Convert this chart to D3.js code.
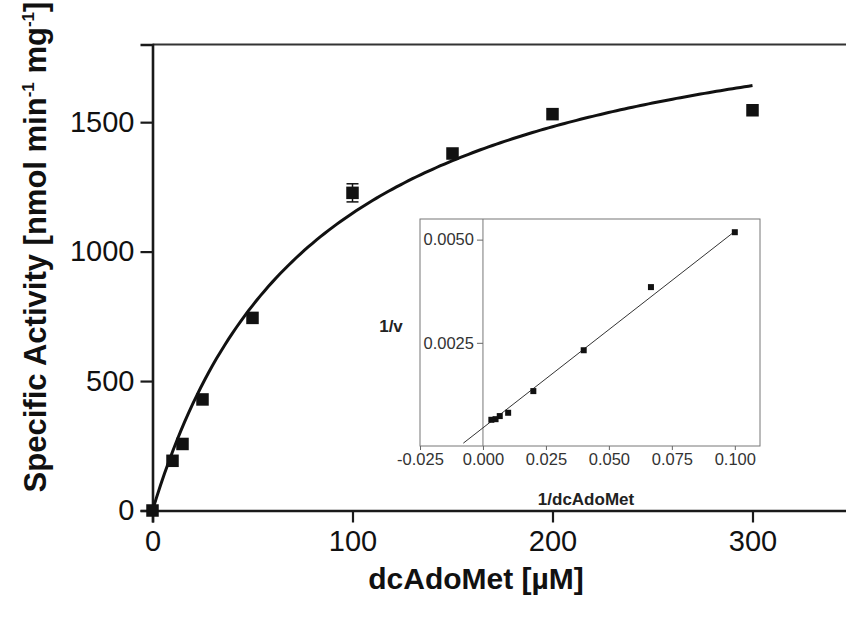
<!DOCTYPE html>
<html>
<head>
<meta charset="utf-8">
<script src="https://cdn.jsdelivr.net/npm/d3@7"></script>
<style>
  html, body { margin: 0; padding: 0; background: #fff; }
  svg { display: block; font-family: Arial, "Liberation Sans", sans-serif; }
</style>
</head>
<body>
<svg id="chart" width="846" height="623"></svg>
<script>
// Substrate saturation data: dcAdoMet concentration (µM) vs specific activity
const substrate = [0, 10, 15, 25, 50, 100, 150, 200, 300];
const activity  = [0, 192, 257, 429, 744, 1227, 1379, 1531, 1546];
const activityErr = [0, 0, 0, 0, 0, 35, 0, 0, 0];

// Michaelis–Menten fit parameters
const vmax = 2090;
const km = 82;

// Main axis ticks
const xTicks = [0, 100, 200, 300];
const yTicks = [0, 500, 1000, 1500];

// Lineweaver–Burk (double reciprocal) inset
const recipS = [0.1, 0.0667, 0.04, 0.02, 0.01, 0.00667, 0.005, 0.00333];
const recipV = [0.00518, 0.00385, 0.00232, 0.00133, 0.000805, 0.000725, 0.000650, 0.000635];
const lbSlope = 0.0476;
const lbIntercept = 0.00044;
const lbLineRange = [-0.0078, 0.1003];
const insetXTicks = [-0.025, 0, 0.025, 0.05, 0.075, 0.1];
const insetYTicks = [0.0025, 0.005];

const svg = d3.select("#chart");

// ---- main plot ----
const x = d3.scaleLinear().domain([0, 350]).range([152.5, 852.5]);
const y = d3.scaleLinear().domain([0, 1800]).range([510.5, 44.5]);

// frame top edge
svg.append("line")
  .attr("x1", x(0)).attr("x2", x(350))
  .attr("y1", y(1800)).attr("y2", y(1800))
  .attr("stroke", "#333").attr("stroke-width", 2.2);

const xAxis = svg.append("g")
  .attr("transform", `translate(0,${y(0)})`)
  .call(d3.axisBottom(x).tickValues(xTicks).tickSize(12).tickPadding(6).tickFormat(d3.format("d")));
const yAxis = svg.append("g")
  .attr("transform", `translate(${x(0)},0)`)
  .call(d3.axisLeft(y).tickValues(yTicks).tickSize(12).tickPadding(6).tickFormat(d3.format("d")));

[xAxis, yAxis].forEach(g => {
  g.select(".domain").attr("stroke", "#1a1a1a").attr("stroke-width", 2.6);
  g.selectAll(".tick line").attr("stroke", "#1a1a1a").attr("stroke-width", 2.2);
  g.selectAll(".tick text")
    .attr("fill", "#111")
    .style("font-size", "29px")
    .style("font-family", "Arial, 'Liberation Sans', sans-serif");
});
xAxis.selectAll(".tick text").attr("dy", "0.78em");

// axis titles
svg.append("text")
  .attr("x", 476).attr("y", 589)
  .attr("text-anchor", "middle")
  .style("font-size", "30px").style("font-weight", "bold")
  .attr("fill", "#111")
  .text("dcAdoMet [µM]");

const yTitle = svg.append("text")
  .attr("transform", "translate(46,247) rotate(-90)")
  .attr("text-anchor", "middle")
  .style("font-size", "31px").style("font-weight", "bold")
  .attr("fill", "#111");
yTitle.append("tspan").text("Specific Activity [nmol min");
yTitle.append("tspan").attr("dy", -12).style("font-size", "17px").text("-1");
yTitle.append("tspan").attr("dy", 12).text(" mg");
yTitle.append("tspan").attr("dy", -12).style("font-size", "17px").text("-1");
yTitle.append("tspan").attr("dy", 12).text("]");

// fitted saturation curve
const fitX = d3.range(0, 300.01, 2);
svg.append("path")
  .datum(fitX)
  .attr("fill", "none")
  .attr("stroke", "#111")
  .attr("stroke-width", 3)
  .attr("d", d3.line().x(d => x(d)).y(d => y(vmax * d / (km + d))));

// error bars
const pts = substrate.map((s, i) => ({ s, v: activity[i], e: activityErr[i] }));
const eb = svg.append("g").attr("stroke", "#111").attr("stroke-width", 1.5);
pts.filter(d => d.e > 0).forEach(d => {
  eb.append("line").attr("x1", x(d.s)).attr("x2", x(d.s)).attr("y1", y(d.v - d.e)).attr("y2", y(d.v + d.e));
  [d.v - d.e, d.v + d.e].forEach(t =>
    eb.append("line").attr("x1", x(d.s) - 6).attr("x2", x(d.s) + 6).attr("y1", y(t)).attr("y2", y(t)));
});

// data markers
const sq = 12.5;
svg.append("g").selectAll("rect").data(pts).join("rect")
  .attr("x", d => x(d.s) - sq / 2)
  .attr("y", d => y(d.v) - sq / 2)
  .attr("width", sq).attr("height", sq)
  .attr("fill", "#111");

// ---- inset: double reciprocal plot ----
const ix = d3.scaleLinear().domain([-0.025, 0.11]).range([420, 760]);
const iy = d3.scaleLinear().domain([0, 0.0055]).range([446, 219]);

svg.append("rect")
  .attr("x", ix(-0.025)).attr("y", iy(0.0055))
  .attr("width", ix(0.11) - ix(-0.025)).attr("height", iy(0) - iy(0.0055))
  .attr("fill", "#fff").attr("stroke", "#777").attr("stroke-width", 1);

// vertical axis at 1/S = 0
svg.append("line")
  .attr("x1", ix(0)).attr("x2", ix(0))
  .attr("y1", iy(0.0055)).attr("y2", iy(0))
  .attr("stroke", "#777").attr("stroke-width", 1);

const ixAxis = svg.append("g")
  .attr("transform", `translate(0,${iy(0)})`)
  .call(d3.axisBottom(ix).tickValues(insetXTicks).tickSize(4).tickPadding(3).tickFormat(d3.format(".3f")));
const iyAxis = svg.append("g")
  .attr("transform", `translate(${ix(0)},0)`)
  .call(d3.axisLeft(iy).tickValues(insetYTicks).tickSize(6).tickPadding(3).tickFormat(d3.format(".4f")));
[ixAxis, iyAxis].forEach(g => {
  g.select(".domain").remove();
  g.selectAll(".tick line").attr("stroke", "#666").attr("stroke-width", 1);
  g.selectAll(".tick text")
    .attr("fill", "#333")
    .style("font-size", "16.5px")
    .style("font-family", "Arial, 'Liberation Sans', sans-serif");
});
ixAxis.selectAll(".tick text").text(d => d3.format(".3f")(d).replace("−", "-"));

svg.append("text")
  .attr("x", 586).attr("y", 505)
  .attr("text-anchor", "middle")
  .style("font-size", "17px").style("font-weight", "bold")
  .attr("fill", "#222")
  .text("1/dcAdoMet");
svg.append("text")
  .attr("x", 391).attr("y", 332)
  .attr("text-anchor", "middle")
  .style("font-size", "17px").style("font-weight", "bold")
  .attr("fill", "#222")
  .text("1/v");

// linear fit
svg.append("line")
  .attr("x1", ix(lbLineRange[0])).attr("y1", iy(lbIntercept + lbSlope * lbLineRange[0]))
  .attr("x2", ix(lbLineRange[1])).attr("y2", iy(lbIntercept + lbSlope * lbLineRange[1]))
  .attr("stroke", "#333").attr("stroke-width", 1);

const isq = 6;
svg.append("g").selectAll("rect").data(recipS.map((r, i) => ({ r, v: recipV[i] }))).join("rect")
  .attr("x", d => ix(d.r) - isq / 2)
  .attr("y", d => iy(d.v) - isq / 2)
  .attr("width", isq).attr("height", isq)
  .attr("fill", "#111");
</script>
</body>
</html>
